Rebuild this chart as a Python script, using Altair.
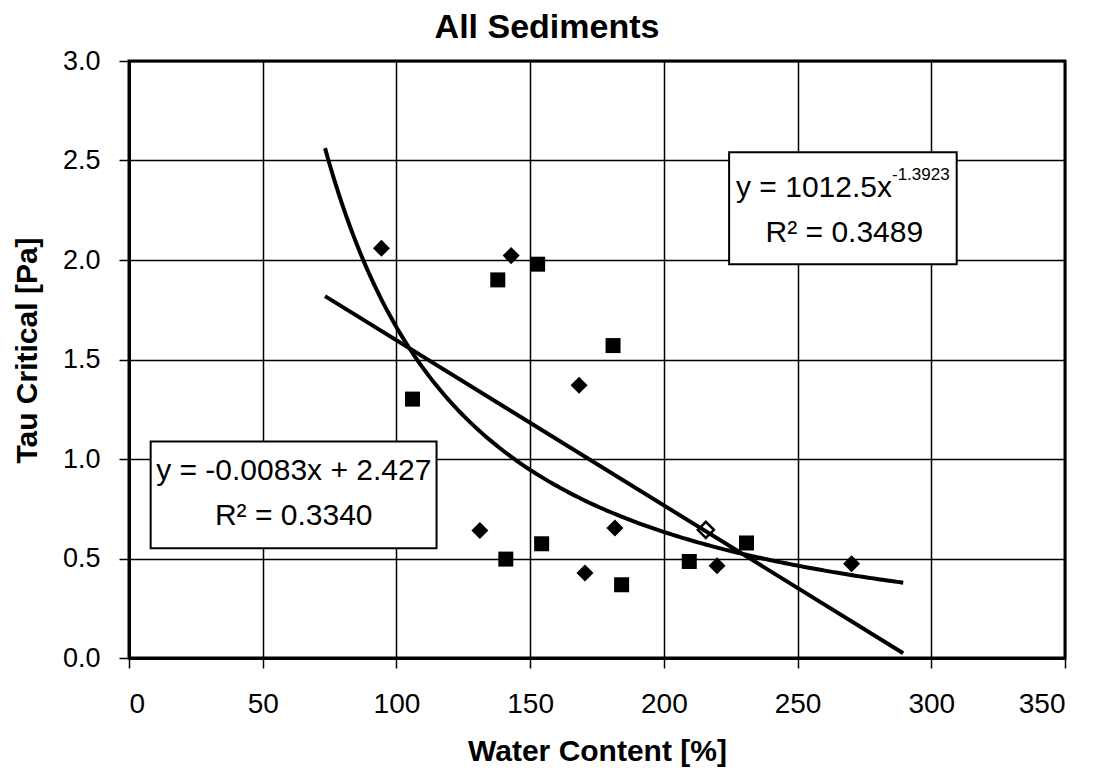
import altair as alt
import numpy as np
import pandas as pd

# Critical shear stress against water content for two sediment groups
diamond_water = [94.4, 142.9, 168.3, 131.2, 170.5, 181.7, 219.9, 270.2]
diamond_tau = [2.059, 2.022, 1.371, 0.641, 0.427, 0.653, 0.464, 0.474]
open_water = [215.7]
open_tau = [0.644]
square_water = [152.8, 137.9, 181.0, 106.0, 140.9, 154.3, 184.2, 209.5, 230.9]
square_tau = [1.979, 1.900, 1.570, 1.301, 0.497, 0.574, 0.368, 0.485, 0.578]

# Trend lines as printed on the chart
lin_slope, lin_intercept = -0.0083, 2.427
pow_coef, pow_exp = 1012.5, -1.3923
trend_span = [73.3, 289.5]

x_ticks = [0, 50, 100, 150, 200, 250, 300, 350]
y_ticks = [0.0, 0.5, 1.0, 1.5, 2.0, 2.5, 3.0]

FONT = "Liberation Sans"

diamonds = pd.DataFrame({"x": diamond_water, "y": diamond_tau})
opens = pd.DataFrame({"x": open_water, "y": open_tau})
squares = pd.DataFrame({"x": square_water, "y": square_tau})

xs = np.linspace(trend_span[0], trend_span[1], 200)
power_df = pd.DataFrame({"x": xs, "y": pow_coef * xs ** pow_exp})
linear_df = pd.DataFrame({"x": trend_span,
                          "y": [lin_slope * v + lin_intercept for v in trend_span]})

x_scale = alt.Scale(domain=[0, 350], nice=False, zero=False)
y_scale = alt.Scale(domain=[0, 3], nice=False, zero=False)

x_axis = alt.Axis(values=x_ticks, format="d", title="Water Content [%]",
                  labelFontSize=28, labelPadding=22, tickSize=10, titlePadding=18,
                  titleFontSize=30)
y_axis = alt.Axis(values=y_ticks, format=".1f", title="Tau Critical [Pa]",
                  labelFontSize=27, labelPadding=19, tickSize=10, titlePadding=20,
                  titleFontSize=30, titleY=289)


def X(field="x"):
    return alt.X(f"{field}:Q", scale=x_scale, axis=x_axis)


def Y(field="y"):
    return alt.Y(f"{field}:Q", scale=y_scale, axis=y_axis)


pts_d = alt.Chart(diamonds).mark_point(
    shape="diamond", filled=True, color="black", size=290, opacity=1
).encode(x=X(), y=Y())

pts_open = alt.Chart(opens).mark_point(
    shape="diamond", filled=True, fill="white", stroke="black", strokeWidth=2.5,
    size=260, opacity=1
).encode(x=X(), y=Y())

pts_s = alt.Chart(squares).mark_point(
    shape="square", filled=True, color="black", size=225, opacity=1
).encode(x=X(), y=Y())

power_line = alt.Chart(power_df).mark_line(
    color="black", strokeWidth=4
).encode(x=X(), y=Y())

linear_line = alt.Chart(linear_df).mark_line(
    color="black", strokeWidth=4
).encode(x=X(), y=Y())

# Equation boxes
boxes = pd.DataFrame({
    "x": [224.4, 8.1], "x1": [309.5, 115.0],
    "y": [2.541, 1.088], "y1": [1.979, 0.552],
})
box_layer = alt.Chart(boxes).mark_rect(
    fill="white", stroke="black", strokeWidth=2
).encode(x=X(), x2="x1:Q", y=Y(), y2="y1:Q")

centered_text = pd.DataFrame({
    "x": [267.5, 61.6, 61.6],
    "y": [2.092, 0.8955, 0.670],
    "t": ["R\u00b2 = 0.3489", "y = -0.0083x + 2.427", "R\u00b2 = 0.3340"],
})
text_center = alt.Chart(centered_text).mark_text(
    font=FONT, fontSize=30, color="black", align="center", baseline="alphabetic"
).encode(x=X(), y=Y(), text="t:N")

power_main = pd.DataFrame({"x": [285.3], "y": [2.318], "t": ["y = 1012.5x"]})
text_main = alt.Chart(power_main).mark_text(
    font=FONT, fontSize=30, color="black", align="right", baseline="alphabetic"
).encode(x=X(), y=Y(), text="t:N")

power_sup = pd.DataFrame({"x": [285.3], "y": [2.402], "t": ["-1.3923"]})
text_sup = alt.Chart(power_sup).mark_text(
    font=FONT, fontSize=17, color="black", align="left", baseline="alphabetic"
).encode(x=X(), y=Y(), text="t:N")

chart = alt.layer(
    pts_d, pts_open, pts_s, power_line, linear_line,
    box_layer, text_center, text_main, text_sup
).properties(
    width=936, height=597,
    background="white",
    padding={"left": 129, "top": 61, "right": 31, "bottom": 119},
    autosize=alt.AutoSizeParams(type="none"),
    title=alt.TitleParams("All Sediments", font=FONT, fontSize=34, fontWeight="bold",
                          color="black", anchor="middle", dx=-50, offset=2),
).configure_view(
    stroke="black", strokeWidth=3
).configure_axis(
    labelFont=FONT, titleFont=FONT, labelColor="black", titleColor="black",
    titleFontWeight="bold", domainColor="black", domainWidth=3,
    tickColor="black", tickWidth=1.5, gridColor="black", gridWidth=1.5,
    gridOpacity=1
)

chart.save("out.html", embed_options={"renderer": "svg", "actions": False})
